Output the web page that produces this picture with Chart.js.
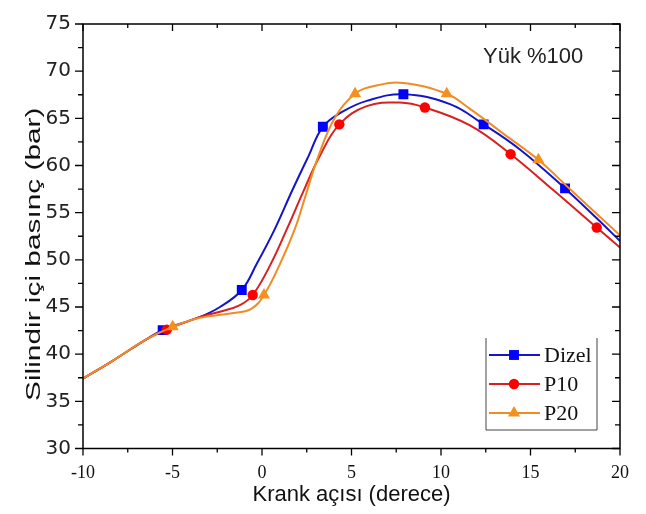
<!DOCTYPE html>
<html>
<head>
<meta charset="utf-8">
<script src="https://cdn.jsdelivr.net/npm/chart.js@4.4.1/dist/chart.umd.min.js"></script>
<style>
  html, body { margin: 0; padding: 0; background: #fff; }
  #wrap { width: 646px; height: 514px; }
</style>
</head>
<body>
<div id="wrap"><canvas id="chart" width="646" height="514"></canvas></div>
<script>
// values
const seriesNames = ['Dizel', 'P10', 'P20'];
const xTicks = [-10, -5, 0, 5, 10, 15, 20];
const yTicks = [30, 35, 40, 45, 50, 55, 60, 65, 70, 75];

const dizelX = [-10, -8.3, -6.44, -5.55, -3.46, -2.35, -1.13, -0.3, 0.7, 1.7, 2.6, 3.4, 4.5, 5.85, 7.9, 10.5, 12.38, 14.41, 16.93, 18.7, 20];
const dizelY = [37.4, 39.35, 41.6, 42.55, 43.95, 45.0, 46.8, 49.55, 53.2, 57.4, 61.0, 64.1, 65.7, 66.85, 67.55, 66.5, 64.36, 61.7, 57.57, 54.4, 52.0];
const p10X = [-10, -8.3, -6.44, -5.32, -3.46, -2.35, -1.23, -0.52, 0.5, 1.4, 2.3, 3.2, 4.32, 5.85, 7.7, 9.1, 11.62, 13.89, 16.27, 18.7, 20];
const p10Y = [37.4, 39.35, 41.6, 42.6, 43.95, 44.5, 45.2, 46.27, 49.6, 53.3, 57.2, 60.9, 64.36, 66.3, 66.67, 66.15, 64.25, 61.2, 57.4, 53.42, 51.3];
const p20X = [-10, -8.3, -6.44, -4.99, -3.46, -1.6, -0.6, 0.11, 1.0, 1.84, 2.4, 3.15, 4.08, 5.2, 6.3, 7.9, 10.32, 11.62, 13.48, 15.44, 17.2, 20];
const p20Y = [37.4, 39.35, 41.6, 42.9, 43.85, 44.37, 44.8, 46.27, 49.55, 53.3, 56.6, 61.0, 65.1, 67.6, 68.45, 68.75, 67.6, 66.0, 63.38, 60.6, 57.5, 52.6];

// marker positions
const dizelMarkX = [-5.55, -1.13, 3.4, 7.9, 12.38, 16.93];
const dizelMarkY = [42.55, 46.8, 64.1, 67.55, 64.36, 57.57];
const p10MarkX = [-5.32, -0.52, 4.32, 9.1, 13.89, 18.7];
const p10MarkY = [42.6, 46.27, 64.36, 66.15, 61.2, 53.42];
const p20MarkX = [-4.99, 0.11, 5.2, 10.32, 15.44];
const p20MarkY = [42.9, 46.27, 67.6, 67.6, 60.6];

const pts = (xs, ys) => xs.map((x, i) => ({ x: x, y: ys[i] }));

const styles = [
  { line: '#1414c8', mark: '#0000ff', shape: 'rect', r: 7 },
  { line: '#d82020', mark: '#ff0000', shape: 'circle', r: 5.2 },
  { line: '#f08c24', mark: '#f5901e', shape: 'triangle', r: 7 }
];
const curves = [pts(dizelX, dizelY), pts(p10X, p10Y), pts(p20X, p20Y)];
const marks = [pts(dizelMarkX, dizelMarkY), pts(p10MarkX, p10MarkY), pts(p20MarkX, p20MarkY)];

const datasets = [];
seriesNames.forEach((name, i) => {
  const s = styles[i];
  datasets.push({
    label: name,
    data: curves[i],
    borderColor: s.line,
    borderWidth: 2,
    pointRadius: 0,
    tension: 0.4,
    showLine: true,
    order: 10 - i * 2
  });
  datasets.push({
    label: name + ' marker',
    data: marks[i],
    showLine: false,
    pointStyle: s.shape,
    pointRadius: s.r,
    pointBackgroundColor: s.mark,
    pointBorderColor: s.mark,
    pointBorderWidth: 0,
    order: 9 - i * 2
  });
});

function markerPath(c, shape, x, y, r) {
  c.beginPath();
  if (shape === 'rect') {
    const h = r * Math.SQRT1_2;
    c.rect(x - h, y - h, 2 * h, 2 * h);
  } else if (shape === 'circle') {
    c.arc(x, y, r, 0, Math.PI * 2);
  } else {
    c.moveTo(x, y - r);
    c.lineTo(x + r * 0.866, y + r * 0.5);
    c.lineTo(x - r * 0.866, y + r * 0.5);
    c.closePath();
  }
}

// ticks on all four sides, y title, legend box, load label
const framePlugin = {
  id: 'frame',
  afterDraw(chart) {
    const c = chart.ctx;
    const a = chart.chartArea;
    const xs = chart.scales.x, ys = chart.scales.y;
    c.save();
    c.strokeStyle = '#000';
    c.lineWidth = 1.5;
    c.strokeRect(a.left, a.top, a.right - a.left, a.bottom - a.top);
    c.lineWidth = 1.3;
    c.beginPath();
    for (let v = -10; v <= 20; v += 2.5) {
      const px = xs.getPixelForValue(v);
      const len = v % 5 === 0 ? 7 : 4;
      c.moveTo(px, a.bottom); c.lineTo(px, a.bottom + len);
      c.moveTo(px, a.top); c.lineTo(px, a.top + len);
    }
    for (let v = 30; v <= 75; v += 2.5) {
      const py = ys.getPixelForValue(v);
      const len = v % 5 === 0 ? 8 : 5;
      c.moveTo(a.left, py); c.lineTo(a.left - len, py);
      c.moveTo(a.right, py); c.lineTo(a.right - len, py);
    }
    c.stroke();

    // y axis title, drawn wide like the original
    c.save();
    c.translate(34, (a.top + a.bottom) / 2 + 18);
    c.rotate(-Math.PI / 2);
    c.scale(1.42, 1);
    c.fillStyle = '#111';
    c.font = '21px "Liberation Sans", Arial, sans-serif';
    c.textAlign = 'center';
    c.textBaseline = 'middle';
    c.fillText('Silindir içi basınç (bar)', 0, 0);
    c.restore();

    // load label
    c.fillStyle = '#222';
    c.font = '22px "Liberation Sans", Arial, sans-serif';
    c.textAlign = 'left';
    c.textBaseline = 'middle';
    c.fillText('Yük %100', 483, 57);

    // legend
    const bx = 486, by = 338, bw = 111, bh = 92;
    c.strokeStyle = '#444';
    c.lineWidth = 1;
    c.beginPath();
    c.moveTo(bx, by); c.lineTo(bx, by + bh); c.lineTo(bx + bw, by + bh); c.lineTo(bx + bw, by);
    c.stroke();
    seriesNames.forEach((name, i) => {
      const s = styles[i];
      const y = 355 + i * 29;
      c.strokeStyle = s.line;
      c.lineWidth = 2;
      c.beginPath();
      c.moveTo(489, y); c.lineTo(540, y);
      c.stroke();
      c.fillStyle = s.mark;
      markerPath(c, s.shape, 514, y, s.r);
      c.fill();
      c.fillStyle = '#111';
      c.font = '22px "Liberation Serif", "DejaVu Serif", serif';
      c.textAlign = 'left';
      c.textBaseline = 'middle';
      c.fillText(name, 544, y + 1);
    });
    c.restore();
  }
};

new Chart(document.getElementById('chart'), {
  type: 'scatter',
  data: { datasets: datasets },
  options: {
    responsive: false,
    animation: false,
    layout: { padding: { top: 16, right: 26, left: 0, bottom: 0 } },
    plugins: { legend: { display: false }, tooltip: { enabled: false } },
    scales: {
      x: {
        type: 'linear',
        min: -10, max: 20,
        afterBuildTicks: s => { s.ticks = xTicks.map(v => ({ value: v })); },
        afterFit: s => { s.height = 65.5; },
        grid: { display: false, drawTicks: false },
        border: { display: false },
        ticks: {
          padding: 14,
          color: '#111',
          font: { family: '"Liberation Serif", "DejaVu Serif", serif', size: 18 }
        },
        title: {
          display: true,
          text: 'Krank açısı (derece)',
          color: '#111',
          font: { family: '"Liberation Sans", Arial, sans-serif', size: 22 },
          padding: { top: 0, bottom: 6 }
        }
      },
      y: {
        type: 'linear',
        min: 30, max: 75,
        afterBuildTicks: s => { s.ticks = yTicks.map(v => ({ value: v })); },
        afterFit: s => { s.width = 83; },
        grid: { display: false, drawTicks: false },
        border: { display: false },
        ticks: {
          padding: 12,
          color: '#222',
          font: { family: '"DejaVu Sans", sans-serif', size: 20 }
        },
        title: { display: false }
      }
    }
  },
  plugins: [framePlugin]
});
</script>
</body>
</html>
